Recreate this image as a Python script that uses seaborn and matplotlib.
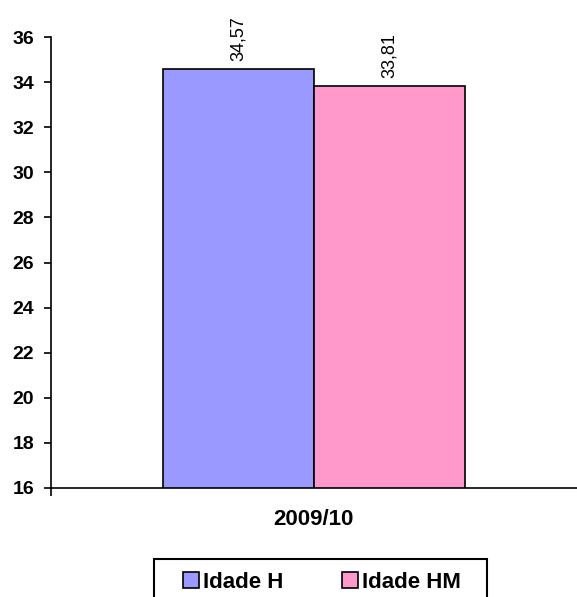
import matplotlib
matplotlib.use("Agg")
import matplotlib.pyplot as plt
import seaborn as sns
import pandas as pd

# values
periods = ["2009/10", "2009/10"]
series = ["Idade H", "Idade HM"]
values = [34.57, 33.81]
colors = ["#9999FF", "#FF99CC"]

df = pd.DataFrame({"Periodo": periods, "Serie": series, "Idade": values})

sns.set_style("white", {"ytick.left": True, "xtick.bottom": True,
                        "text.color": "black", "xtick.color": "black",
                        "ytick.color": "black", "axes.edgecolor": "black"})
plt.rcParams["font.family"] = ["Liberation Sans", "DejaVu Sans"]

fig = plt.figure(figsize=(5.77, 5.97), dpi=100)
ax = fig.add_axes([0.088, 0.1826, 0.912, 0.7554])

ax = sns.barplot(data=df, x="Periodo", y="Idade", hue="Serie", palette=colors,
                 edgecolor="black", linewidth=1.2, saturation=1, width=0.8, ax=ax)

for cont in ax.containers:
    ax.bar_label(cont, labels=[f"{v:.2f}".replace(".", ",") for v in cont.datavalues],
                 rotation=90, padding=6, fontsize=13, color="black")

ax.set_ylim(16, 36)
ax.set_yticks(range(16, 37, 2))
ax.set_xlim(-0.697, 0.697)
ax.set_xlabel("")
ax.set_ylabel("")

sns.despine(ax=ax, top=True, right=True)
for s in ["left", "bottom"]:
    ax.spines[s].set_color("black")
    ax.spines[s].set_linewidth(1.2)

ax.tick_params(axis="y", left=True, direction="out", length=5, width=1.2,
               color="black", labelcolor="black", labelsize=14, pad=7)
ax.tick_params(axis="x", length=0, labelsize=16, labelcolor="black", pad=15)
ax.set_xticks([-0.697], minor=True)
ax.tick_params(axis="x", which="minor", bottom=True, direction="out", length=6,
               width=1.2, color="black")
for t in ax.get_yticklabels() + ax.get_xticklabels():
    t.set_fontweight("bold")

ax.legend_.remove()
handles = [plt.Rectangle((0, 0), 1, 1, facecolor=c, edgecolor="black", linewidth=1.2) for c in colors]
leg = fig.legend(handles, series, loc="center left", bbox_to_anchor=(183 / 577, 1 - 582 / 597),
                 ncol=2, frameon=False,
                 handlelength=0.72, handleheight=0.72, handletextpad=0.2,
                 columnspacing=2.6, borderpad=0, borderaxespad=0,
                 prop={"weight": "bold", "size": 16})
for t in leg.get_texts():
    t.set_color("black")

# legend box, cut off by the bottom edge as in the original
frame = plt.Rectangle((154 / 577, -0.05), 333 / 577, 0.05 + 1 - 559 / 597,
                      transform=fig.transFigure, fill=False, edgecolor="black",
                      linewidth=1.5, clip_on=False)
fig.add_artist(frame)

fig.savefig("out.png", dpi=100)
